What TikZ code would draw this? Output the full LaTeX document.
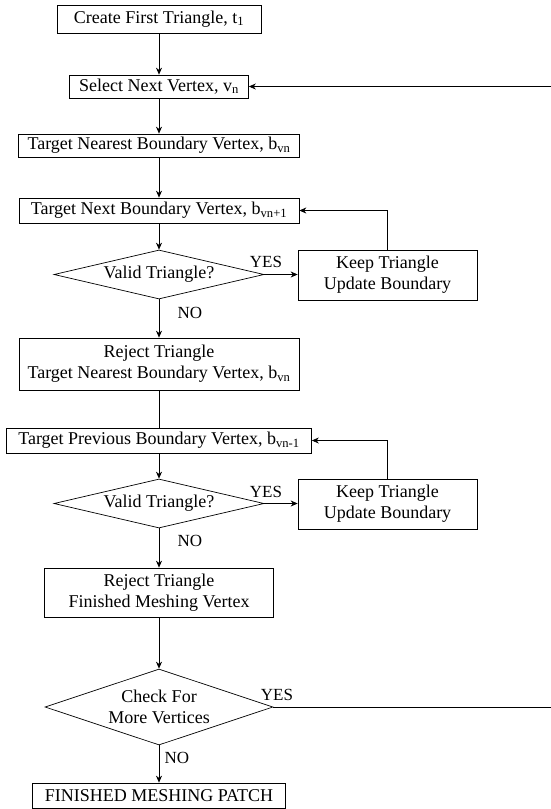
\documentclass[tikz,border=0pt]{standalone}
\usepackage{fontspec}
\setmainfont{Liberation Serif}
\usetikzlibrary{arrows.meta,shapes.geometric}

\begin{document}
\begin{tikzpicture}[x=1pt, y=-1pt,
		blk/.style={draw, line width=0.7pt, inner sep=0pt, align=center, font=\fontsize{18}{21}\selectfont},
		dec/.style={blk, diamond, aspect=#1},
		lbl/.style={inner sep=0pt, font=\fontsize{17}{20}\selectfont},
		ln/.style={line width=0.7pt},
		arr/.style={ln, -{Stealth[length=7pt, width=6pt]}}]
			%%%%% START %%%%%
			
			\useasboundingbox (0, 0) rectangle (551, 809);
			
			\node[blk, minimum width=204pt, minimum height=28pt] (create) at (159, 19) {Create First Triangle, t\textsubscript{1}};
			\node[blk, minimum width=179pt, minimum height=23pt] (select) at (159, 86.5) {Select Next Vertex, v\textsubscript{n}};
			\node[blk, minimum width=281pt, minimum height=23pt] (nearest) at (159, 145.5) {Target Nearest Boundary Vertex, b\textsubscript{vn}};
			\node[blk, minimum width=280pt, minimum height=25pt] (nextb) at (159, 210.5) {Target Next Boundary Vertex, b\textsubscript{vn+1}};
			
			\node[dec=4.3, minimum width=210pt, minimum height=49pt] (valid1) at (159, 274.5) {Valid Triangle?};
			\node[blk, minimum width=179pt, minimum height=50pt] (keep1) at (387.5, 275) {Keep Triangle\\Update Boundary};
			\node[blk, minimum width=280pt, minimum height=52pt] (reject1) at (159, 364) {Reject Triangle\\Target Nearest Boundary Vertex, b\textsubscript{vn}};
			
			\node[blk, minimum width=305pt, minimum height=25pt] (prevb) at (159, 440.5) {Target Previous Boundary Vertex, b\textsubscript{vn-1}};
			\node[dec=4.3, minimum width=210pt, minimum height=49pt] (valid2) at (159, 503.5) {Valid Triangle?};
			\node[blk, minimum width=179pt, minimum height=50pt] (keep2) at (387.5, 504) {Keep Triangle\\Update Boundary};
			\node[blk, minimum width=229pt, minimum height=49pt] (reject2) at (159, 592.5) {Reject Triangle\\Finished Meshing Vertex};
			
			\node[dec=3, minimum width=228pt, minimum height=76pt] (more) at (159, 707) {Check For\\More Vertices};
			\node[blk, minimum width=253pt, minimum height=25pt] (finish) at (159, 795.5) {FINISHED MESHING PATCH};
			
			\node[lbl] (yes1) at (266, 262) {YES};
			\node[lbl] (no1) at (190, 313) {NO};
			\node[lbl] (yes2) at (266, 492) {YES};
			\node[lbl] (no2) at (190, 541) {NO};
			\node[lbl] (yes3) at (277, 695) {YES};
			\node[lbl] (no3) at (177, 758) {NO};
			
			\coordinate (turn) at (551, 707);
			
			\draw[arr] (create) -- (select);
			\draw[arr] (select) -- (nearest);
			\draw[arr] (nearest) -- (nextb);
			\draw[arr] (nextb) -- (valid1);
			\draw[arr] (valid1.east) -- (valid1.east -| keep1.west);
			\draw[arr] (keep1.north) |- (nextb.east);
			\draw[arr] (valid1) -- (reject1);
			
			\draw[ln] (reject1) -- (prevb);
			\draw[arr] (prevb) -- (valid2);
			\draw[arr] (valid2.east) -- (valid2.east -| keep2.west);
			\draw[arr] (keep2.north) |- (prevb.east);
			\draw[arr] (valid2) -- (reject2);
			
			\draw[arr] (reject2) -- (more);
			\draw[arr] (more.east) -- (turn) |- (select.east);
			\draw[arr] (more) -- (finish);
			
			%%%%% END %%%%%
\end{tikzpicture}
\end{document}
